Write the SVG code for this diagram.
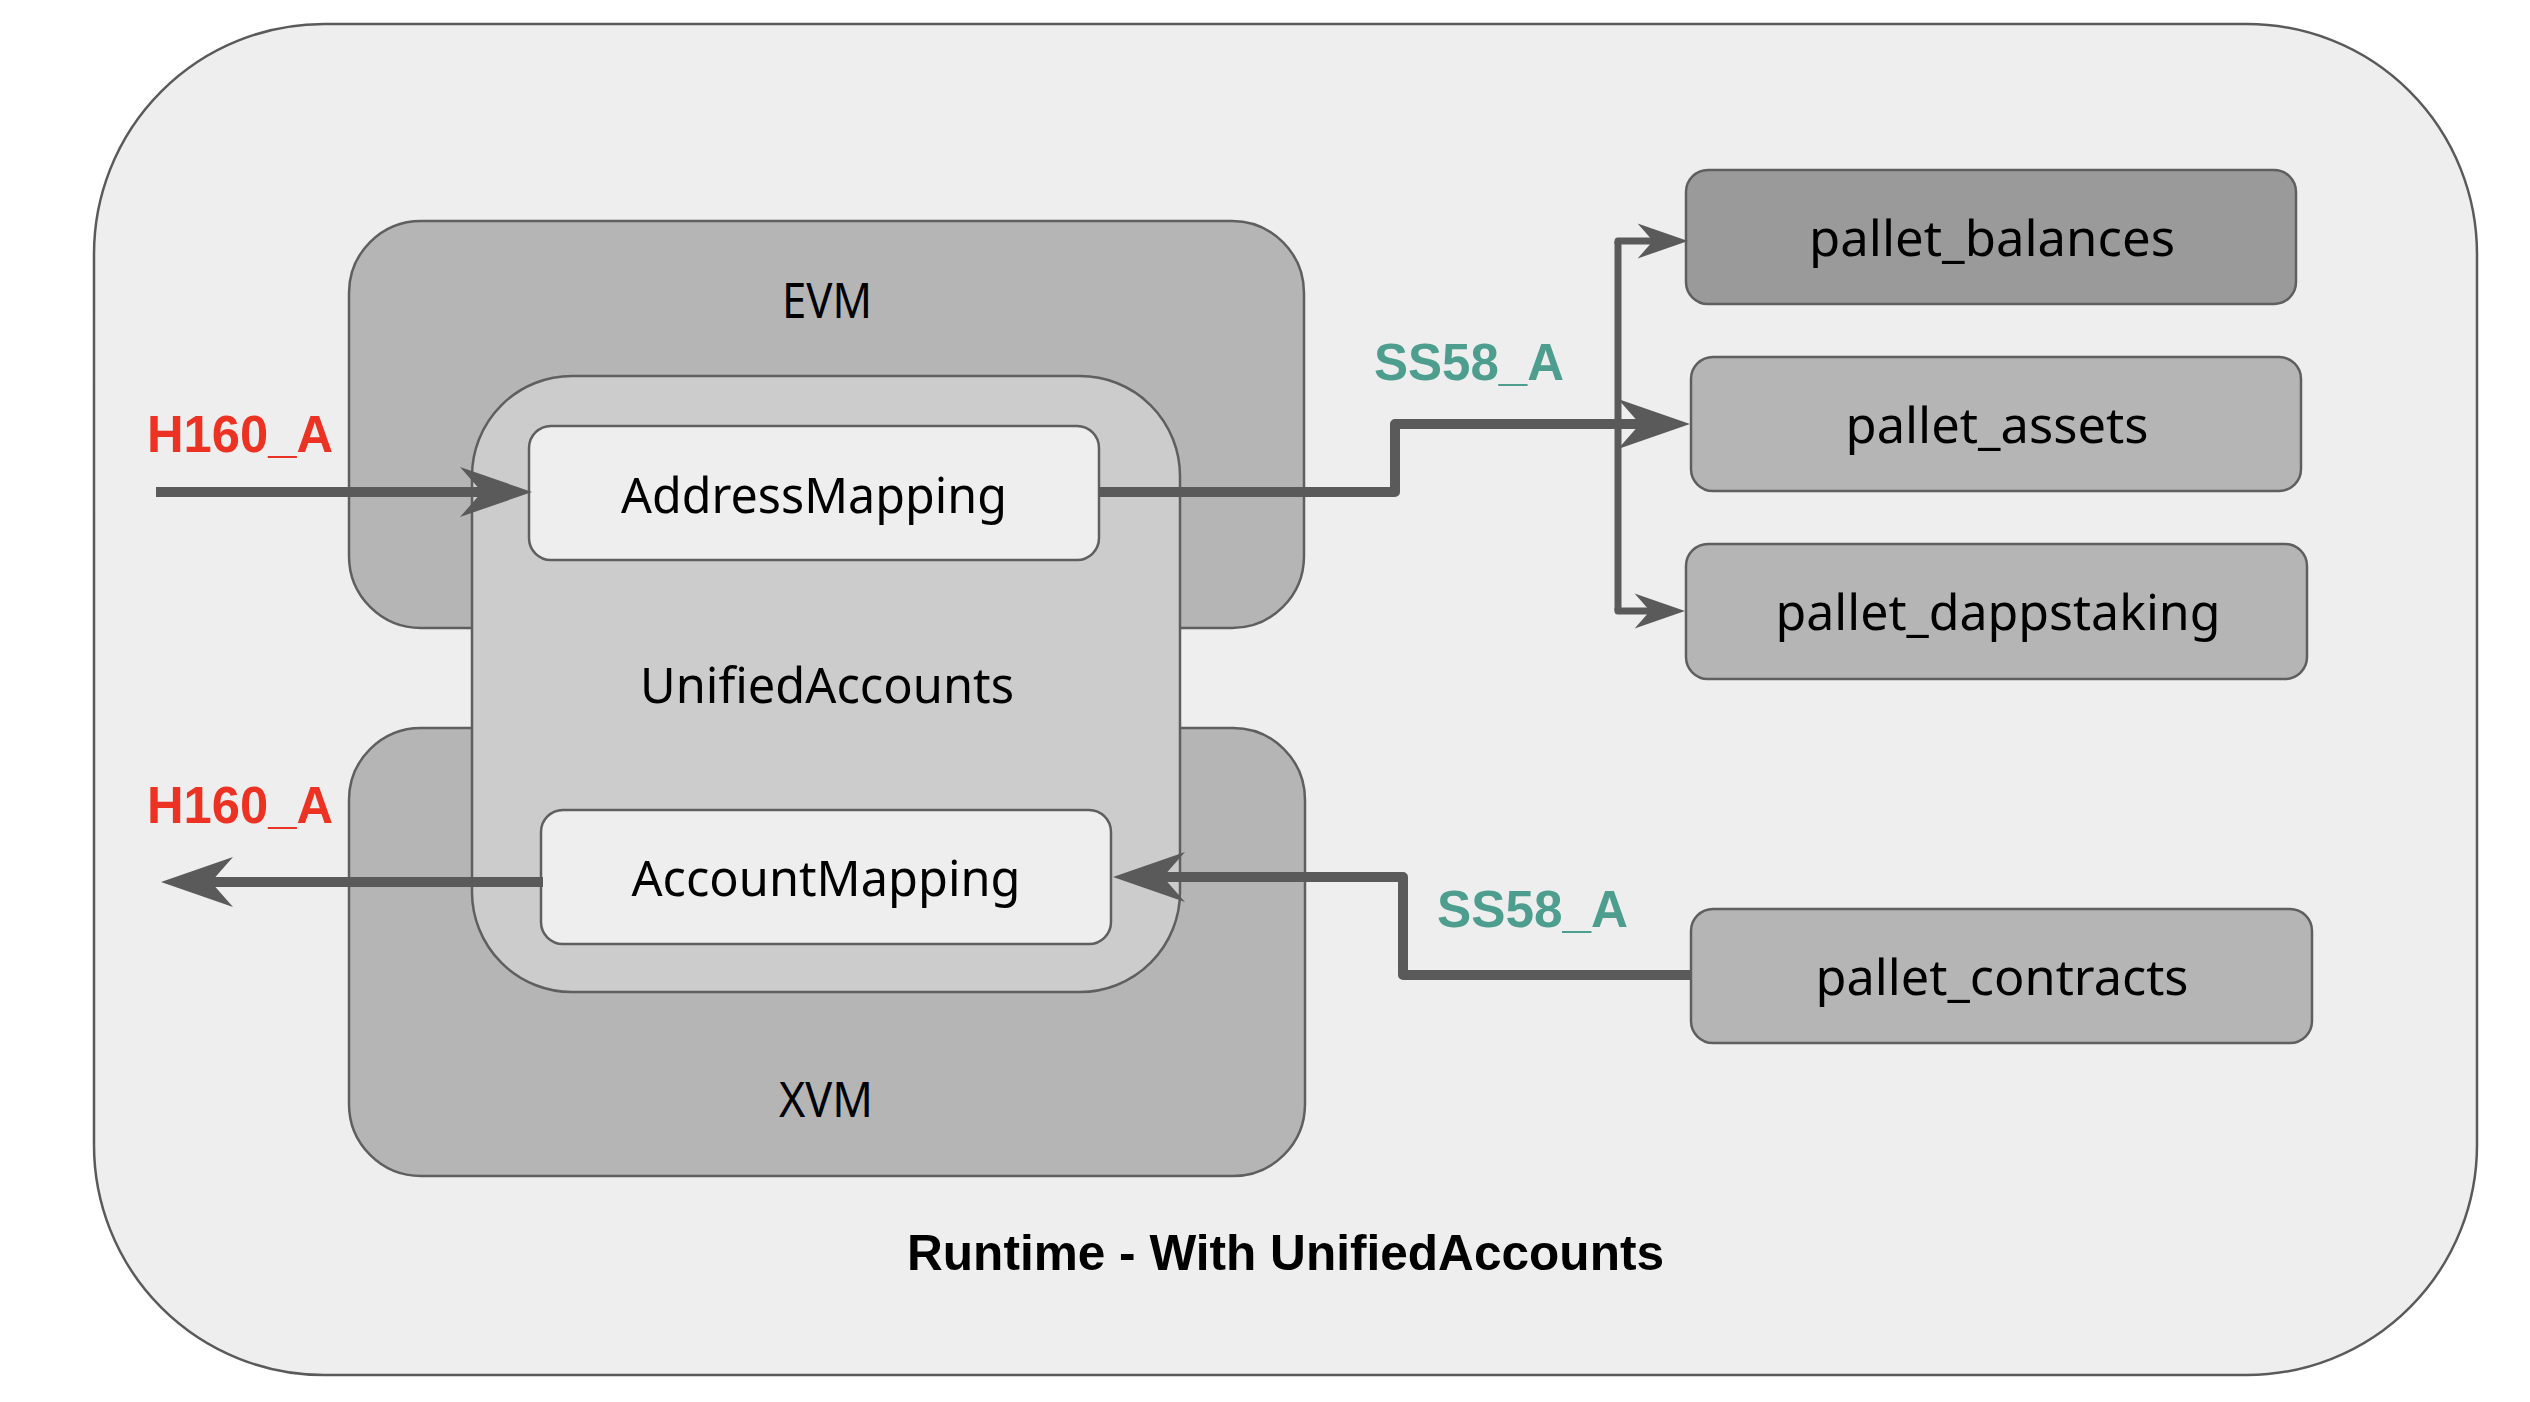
<svg xmlns="http://www.w3.org/2000/svg" width="2530" height="1402" viewBox="0 0 2530 1402">
  <style>
    .box { stroke: #5f5f5f; stroke-width: 2.5; }
    .outer { fill: #eeeeee; stroke: #5a5a5a; stroke-width: 2.5; }
    .vm { fill: #b5b5b5; }
    .ua { fill: #cccccc; }
    .map { fill: #eeeeee; }
    .pal { fill: #b5b5b5; }
    .pal-dark { fill: #9a9a9a; }
    .lbl { font-family: "Noto Sans", "Open Sans", sans-serif; font-size: 50px; fill: #000000; text-anchor: middle; }
    .red { font-family: "Liberation Sans", Arial, sans-serif; font-weight: bold; font-size: 51px; fill: #ec3323; }
    .teal { font-family: "Liberation Sans", Arial, sans-serif; font-weight: bold; font-size: 51px; fill: #4e9e8f; }
    .title { font-family: "Liberation Sans", Arial, sans-serif; font-weight: bold; font-size: 50px; fill: #000000; text-anchor: middle; }
    .conn { fill: none; stroke: #5a5a5a; stroke-linejoin: round; stroke-linecap: butt; marker-end: url(#arr); }
    .thick { stroke-width: 10; }
    .thin { stroke-width: 7; }
    .plain { marker-end: none; }
  </style>
  <defs>
    <marker id="arr" viewBox="-8 -3 9 6" refX="-4" refY="0" markerWidth="9" markerHeight="6" orient="auto" markerUnits="strokeWidth" overflow="visible">
      <path d="M0,0 L-7.2,-2.5 L-5,0 L-7.2,2.5 Z" fill="#5a5a5a"/>
    </marker>
  </defs>

  <rect x="0" y="0" width="2530" height="1402" fill="#ffffff"/>

  <g id="runtime">
    <rect class="outer" x="94" y="24" width="2383" height="1351" rx="230" ry="230"/>
    <text class="title" x="1285.5" y="1270" textLength="757" lengthAdjust="spacingAndGlyphs">Runtime - With UnifiedAccounts</text>
  </g>

  <g id="evm">
    <rect class="box vm" x="349" y="221" width="955" height="407" rx="72" ry="72"/>
    <text class="lbl" x="827" y="318" textLength="90" lengthAdjust="spacingAndGlyphs">EVM</text>
  </g>

  <g id="xvm">
    <rect class="box vm" x="349" y="728" width="956" height="448" rx="72" ry="72"/>
    <text class="lbl" x="826" y="1117" textLength="94" lengthAdjust="spacingAndGlyphs">XVM</text>
  </g>

  <g id="unified-accounts">
    <rect class="box ua" x="472" y="376" width="708" height="616" rx="100" ry="100"/>
    <text class="lbl" x="827" y="703" textLength="374" lengthAdjust="spacingAndGlyphs">UnifiedAccounts</text>
  </g>

  <g id="address-mapping">
    <rect class="box map" x="529" y="426" width="570" height="134" rx="22" ry="22"/>
    <text class="lbl" x="814" y="513" textLength="386" lengthAdjust="spacingAndGlyphs">AddressMapping</text>
  </g>

  <g id="account-mapping">
    <rect class="box map" x="541" y="810" width="570" height="134" rx="22" ry="22"/>
    <text class="lbl" x="826" y="896" textLength="389" lengthAdjust="spacingAndGlyphs">AccountMapping</text>
  </g>

  <g id="pallet-balances">
    <rect class="box pal-dark" x="1686" y="170" width="610" height="134" rx="22" ry="22"/>
    <text class="lbl" x="1992" y="256" textLength="366" lengthAdjust="spacingAndGlyphs">pallet_balances</text>
  </g>

  <g id="pallet-assets">
    <rect class="box pal" x="1691" y="357" width="610" height="134" rx="22" ry="22"/>
    <text class="lbl" x="1997" y="443" textLength="303" lengthAdjust="spacingAndGlyphs">pallet_assets</text>
  </g>

  <g id="pallet-dappstaking">
    <rect class="box pal" x="1686" y="544" width="621" height="135" rx="22" ry="22"/>
    <text class="lbl" x="1998" y="630" textLength="445" lengthAdjust="spacingAndGlyphs">pallet_dappstaking</text>
  </g>

  <g id="pallet-contracts">
    <rect class="box pal" x="1691" y="909" width="621" height="134" rx="22" ry="22"/>
    <text class="lbl" x="2002" y="995" textLength="373" lengthAdjust="spacingAndGlyphs">pallet_contracts</text>
  </g>

  <g id="connectors">
    <path class="conn thick" d="M156,492 H492"/>
    <path class="conn thick" d="M1099,492 H1395 V424 H1650"/>
    <path class="conn thin plain" d="M1618,241 V611"/>
    <path class="conn thin" d="M1618,244 V241 H1660"/>
    <path class="conn thin" d="M1618,608 V611 H1657"/>
    <path class="conn thick" d="M543,882 H201"/>
    <path class="conn thick" d="M1691,975 H1403 V877 H1153"/>
    <text class="red" x="147" y="452" textLength="186" lengthAdjust="spacingAndGlyphs">H160_A</text>
    <text class="red" x="147" y="823" textLength="186" lengthAdjust="spacingAndGlyphs">H160_A</text>
    <text class="teal" x="1374" y="380" textLength="190" lengthAdjust="spacingAndGlyphs">SS58_A</text>
    <text class="teal" x="1437" y="927" textLength="191" lengthAdjust="spacingAndGlyphs">SS58_A</text>
  </g>
</svg>
